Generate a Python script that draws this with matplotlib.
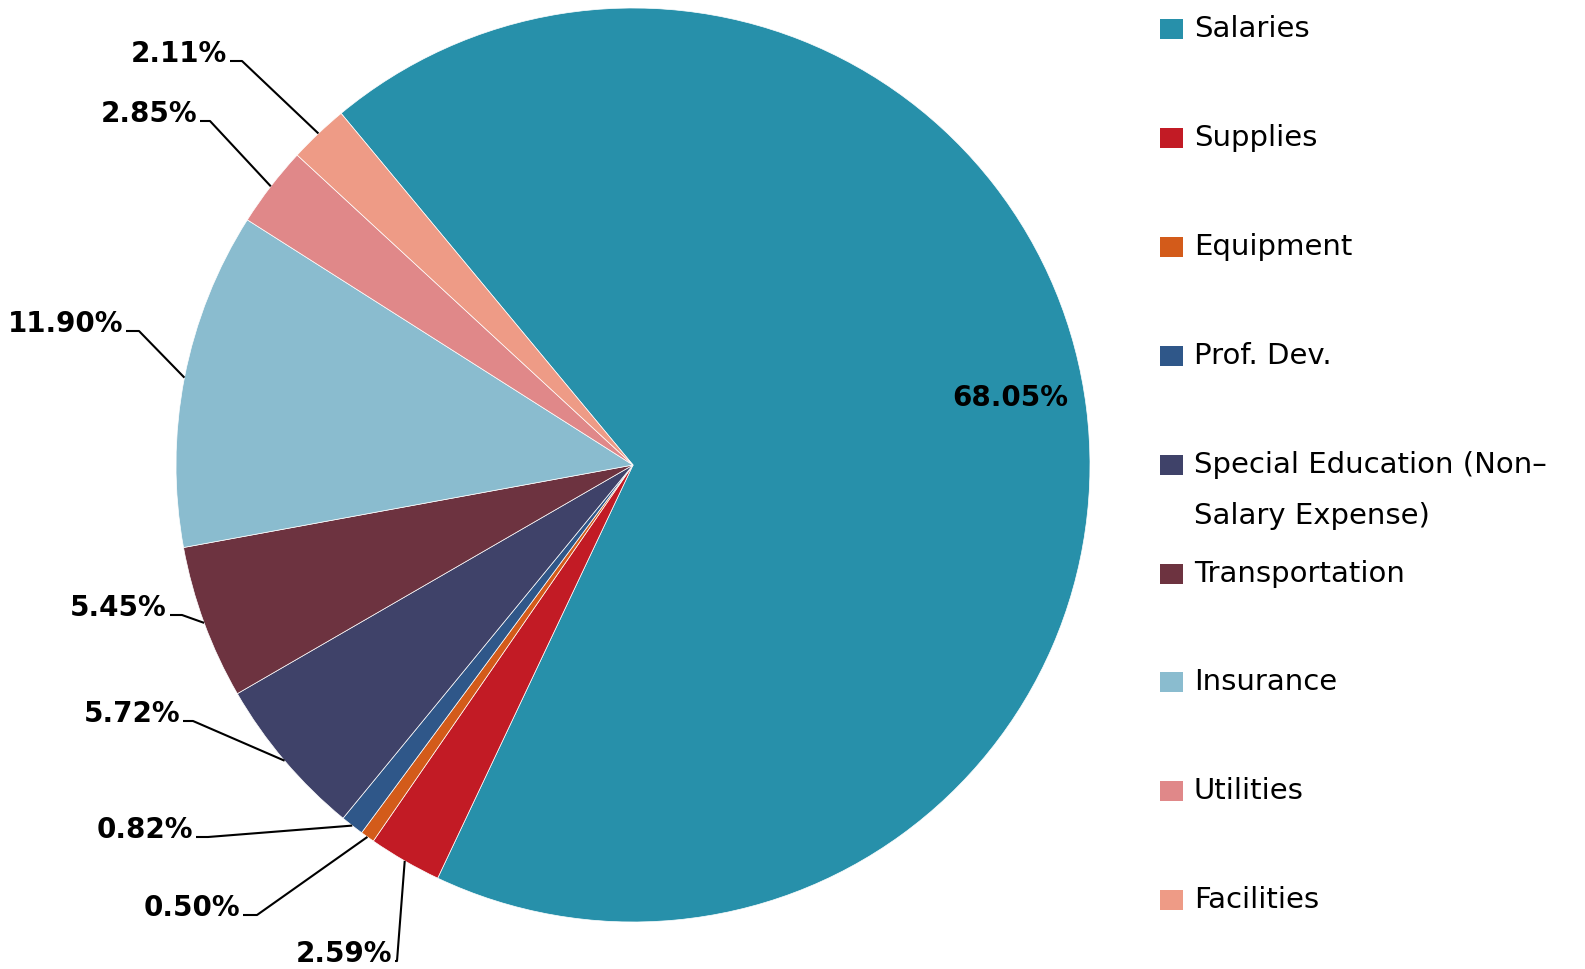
import numpy as np
import matplotlib.pyplot as plt
from matplotlib.patches import Rectangle

# data
categories = ["Salaries", "Supplies", "Equipment", "Prof. Dev.",
              "Special Education (Non\u2013\nSalary Expense)", "Transportation",
              "Insurance", "Utilities", "Facilities"]
shares = [68.05, 2.59, 0.50, 0.82, 5.72, 5.45, 11.90, 2.85, 2.11]
colors = ["#2790AA", "#C21B25", "#D35B1A", "#2F5789", "#3F4269",
          "#6D3340", "#8ABCCF", "#E08889", "#EE9B86"]

# layout (pixel positions, y measured from top)
W, H = 1585, 970
center_px = (633, 466)
radius_px = 457
# (text right edge, baseline, elbow run) for the outside labels, slices 1..8
label_layout = [(392, 962, 2), (240, 916, 14), (193, 838, 12), (180, 722, 10),
                (167, 616, 12), (123, 332, 13), (197, 122, 10), (227, 62, 12)]
inside_label_px = (1010, 398)


def fy(y):
    return H - y


fig = plt.figure(figsize=(W / 100, H / 100), dpi=100)
ax = fig.add_axes([0, 0, 1, 1])

cx, cy = center_px[0], fy(center_px[1])
wedges, _ = ax.pie(shares, colors=colors, startangle=129.7, counterclock=False,
                   center=(cx, cy), radius=radius_px, frame=True,
                   wedgeprops=dict(edgecolor='white', linewidth=0.5))
ax.set_xlim(0, W)
ax.set_ylim(0, H)
ax.set_aspect('equal')
ax.axis('off')

lbl_font = dict(fontsize=20, fontweight='bold', color='black', family='DejaVu Sans')

# big slice label inside
ax.text(inside_label_px[0], fy(inside_label_px[1]), f"{shares[0]:.2f}%",
        ha='center', va='center', **lbl_font)

# outside labels with leader lines
for w, val, (xr, yb, run) in zip(wedges[1:], shares[1:], label_layout):
    mid = np.deg2rad((w.theta1 + w.theta2) / 2)
    ex = cx + radius_px * np.cos(mid)
    ey = cy + radius_px * np.sin(mid)
    ax.text(xr, fy(yb), f"{val:.2f}%", ha='right', va='baseline', **lbl_font)
    x0 = xr + 3
    ax.plot([x0, x0 + run, ex], [fy(yb), fy(yb), ey], color='black', lw=1.5,
            solid_capstyle='butt')

# legend
for i, (name, c) in enumerate(zip(categories, colors)):
    yc = 30 + 108.9 * i
    ax.add_patch(Rectangle((1160, fy(yc + 10)), 23, 20, facecolor=c,
                           edgecolor='none'))
    ax.text(1194, fy(yc - 15), name, ha='left', va='top', fontsize=21,
            color='black', linespacing=2.07, family='DejaVu Sans')

fig.savefig("out.png", dpi=100)
